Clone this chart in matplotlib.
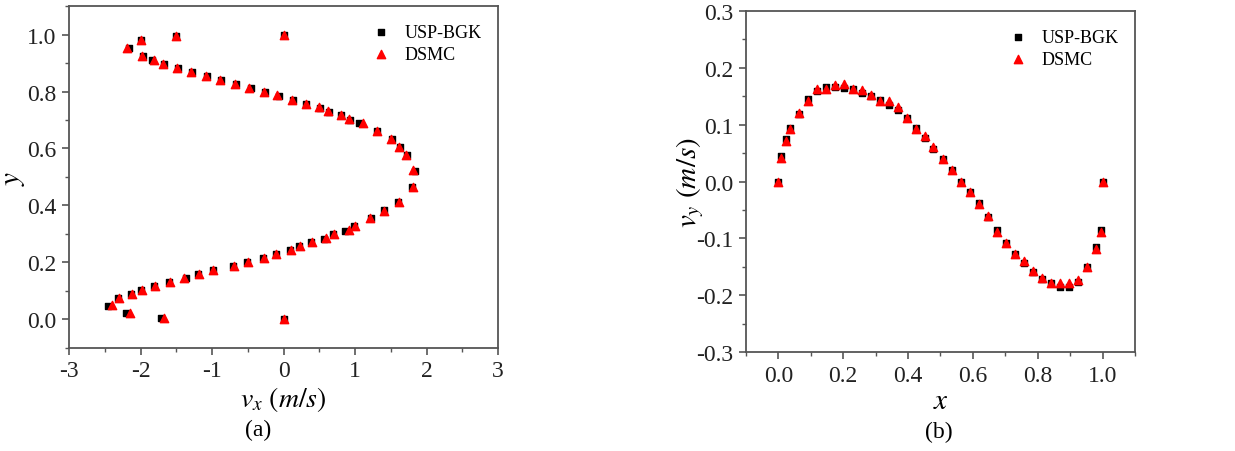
import matplotlib
matplotlib.use("Agg")
import matplotlib.pyplot as plt
from matplotlib.ticker import MultipleLocator

# ---------------- data (a): vx profile along y ----------------
a_dsmc_vx = [0.0, -1.50, -2.00, -2.19, -1.98, -1.81, -1.68, -1.49, -1.29, -1.08, -0.89, -0.68,
             -0.48, -0.27, -0.09, 0.12, 0.31, 0.50, 0.62, 0.80, 0.92, 1.11, 1.30, 1.50, 1.62,
             1.71, 1.81, 1.81, 1.61, 1.41, 1.21, 1.00, 0.91, 0.70, 0.60, 0.40, 0.23, 0.10,
             -0.10, -0.28, -0.50, -0.70, -0.99, -1.18, -1.39, -1.59, -1.80, -1.98, -2.12,
             -2.30, -2.40, -2.15, -1.67, 0.0]
a_dsmc_y = [1.000, 0.995, 0.981, 0.953, 0.925, 0.912, 0.898, 0.884, 0.870, 0.855, 0.841, 0.827,
            0.814, 0.800, 0.786, 0.771, 0.757, 0.744, 0.730, 0.718, 0.702, 0.689, 0.662, 0.634,
            0.606, 0.578, 0.523, 0.465, 0.412, 0.382, 0.356, 0.327, 0.315, 0.299, 0.285, 0.272,
            0.258, 0.244, 0.229, 0.216, 0.201, 0.187, 0.173, 0.159, 0.146, 0.132, 0.118, 0.103,
            0.090, 0.076, 0.051, 0.022, 0.006, 0.000]
a_usp_vx = [0.0, -1.50, -2.00, -2.16, -1.96, -1.84, -1.67, -1.48, -1.28, -1.07, -0.88, -0.67,
            -0.46, -0.26, -0.06, 0.13, 0.32, 0.51, 0.63, 0.81, 0.93, 1.05, 1.31, 1.51, 1.63,
            1.72, 1.84, 1.80, 1.60, 1.40, 1.22, 0.99, 0.86, 0.69, 0.56, 0.39, 0.22, 0.09,
            -0.11, -0.29, -0.51, -0.71, -0.98, -1.19, -1.36, -1.60, -1.81, -1.99, -2.13,
            -2.31, -2.46, -2.20, -1.71, 0.0]
a_usp_y = [1.000, 0.995, 0.981, 0.952, 0.924, 0.911, 0.897, 0.883, 0.869, 0.854, 0.840, 0.826,
           0.813, 0.799, 0.785, 0.770, 0.756, 0.743, 0.729, 0.716, 0.701, 0.688, 0.661, 0.633,
           0.605, 0.577, 0.521, 0.466, 0.411, 0.383, 0.355, 0.328, 0.311, 0.300, 0.284, 0.273,
           0.258, 0.245, 0.230, 0.217, 0.202, 0.188, 0.172, 0.160, 0.145, 0.133, 0.119, 0.104,
           0.091, 0.077, 0.048, 0.022, 0.006, 0.000]
a_xticks = [-3, -2, -1, 0, 1, 2, 3]
a_xticklabels = ["-3", "-2", "-1", "0", "1", "2", "3"]
a_yticks = [0.0, 0.2, 0.4, 0.6, 0.8, 1.0]
a_yticklabels = ["0.0", "0.2", "0.4", "0.6", "0.8", "1.0"]

# ---------------- data (b): vy profile along x ----------------
b_x = [0.000, 0.008, 0.023, 0.036, 0.064, 0.091, 0.118, 0.146, 0.175, 0.203, 0.230, 0.257,
       0.285, 0.314, 0.342, 0.369, 0.397, 0.424, 0.451, 0.478, 0.507, 0.535, 0.563, 0.591,
       0.618, 0.646, 0.674, 0.702, 0.730, 0.758, 0.786, 0.814, 0.842, 0.869, 0.898, 0.925,
       0.953, 0.981, 0.995, 1.000]
b_dsmc_vy = [0.000, 0.041, 0.072, 0.093, 0.121, 0.142, 0.162, 0.163, 0.170, 0.171, 0.162, 0.161,
             0.152, 0.142, 0.141, 0.131, 0.112, 0.092, 0.080, 0.060, 0.040, 0.021, 0.000, -0.019,
             -0.039, -0.060, -0.089, -0.109, -0.128, -0.139, -0.158, -0.169, -0.178, -0.179,
             -0.179, -0.174, -0.150, -0.118, -0.089, 0.000]
b_usp_vy = [0.000, 0.045, 0.075, 0.095, 0.119, 0.145, 0.159, 0.166, 0.167, 0.165, 0.163, 0.156,
            0.151, 0.143, 0.135, 0.125, 0.111, 0.094, 0.076, 0.058, 0.039, 0.020, 0.000, -0.018,
            -0.038, -0.062, -0.086, -0.108, -0.128, -0.144, -0.159, -0.171, -0.179, -0.185,
            -0.185, -0.176, -0.150, -0.116, -0.085, 0.000]
b_xticks = [0.0, 0.2, 0.4, 0.6, 0.8, 1.0]
b_xticklabels = ["0.0", "0.2", "0.4", "0.6", "0.8", "1.0"]
b_yticks = [-0.3, -0.2, -0.1, 0.0, 0.1, 0.2, 0.3]
b_yticklabels = ["-0.3", "-0.2", "-0.1", "0.0", "0.1", "0.2", "0.3"]

label_usp = "USP-BGK"
label_dsmc = "DSMC"

plt.rcParams["font.family"] = ["Liberation Serif", "DejaVu Serif"]
plt.rcParams["mathtext.fontset"] = "stix"

TICK_FS = 17

fig = plt.figure(figsize=(12.35, 4.52), dpi=100)
ax1 = fig.add_axes([0.0559, 0.2279, 0.3474, 0.7566])
ax2 = fig.add_axes([0.6040, 0.2190, 0.3150, 0.7544])

spine_col = "#555555"

def style(ax):
    for s in ax.spines.values():
        s.set_color(spine_col)
        s.set_linewidth(1.3)
    ax.tick_params(which="both", direction="out", colors=spine_col, labelcolor="#222222",
                   top=False, right=False)
    ax.tick_params(which="major", length=5, width=1.2, pad=4)
    ax.tick_params(which="minor", length=3, width=1.0)

leg_kw = dict(loc="upper right", frameon=False, fontsize=13, handletextpad=0.3,
              borderaxespad=0.4, labelspacing=0.28, bbox_to_anchor=(0.995, 0.99))

# panel (a)
ax1.scatter(a_usp_vx, a_usp_y, marker="s", s=22, color="black", label=label_usp, zorder=2)
ax1.scatter(a_dsmc_vx, a_dsmc_y, marker="^", s=36, color="red", label=label_dsmc, zorder=3)
ax1.set_xlim(-3, 3)
ax1.set_ylim(-0.1, 1.1)
ax1.set_xticks(a_xticks)
ax1.set_xticklabels(a_xticklabels, fontsize=TICK_FS)
ax1.set_yticks(a_yticks)
ax1.set_yticklabels(a_yticklabels, fontsize=TICK_FS)
ax1.xaxis.set_minor_locator(MultipleLocator(0.5))
ax1.yaxis.set_minor_locator(MultipleLocator(0.1))
style(ax1)
ax1.set_xlabel(r"$v_x\ (m/s)$", fontsize=20, labelpad=2)
ax1.set_ylabel(r"$y$", fontsize=21, va="center")
ax1.yaxis.set_label_coords(-0.128, 0.5)
ax1.legend(**leg_kw)

# panel (b)
ax2.scatter(b_x, b_usp_vy, marker="s", s=22, color="black", label=label_usp, zorder=2)
ax2.scatter(b_x, b_dsmc_vy, marker="^", s=36, color="red", label=label_dsmc, zorder=3)
ax2.set_xlim(-0.1, 1.1)
ax2.set_ylim(-0.3, 0.3)
ax2.set_xticks(b_xticks)
ax2.set_xticklabels(b_xticklabels, fontsize=TICK_FS)
ax2.set_yticks(b_yticks)
ax2.set_yticklabels(b_yticklabels, fontsize=TICK_FS)
ax2.xaxis.set_minor_locator(MultipleLocator(0.1))
ax2.yaxis.set_minor_locator(MultipleLocator(0.05))
style(ax2)
ax2.set_xlabel(r"$x$", fontsize=21, labelpad=2)
ax2.set_ylabel(r"$v_y\ (m/s)$", fontsize=21, va="center")
ax2.yaxis.set_label_coords(-0.144, 0.5)
ax2.legend(**leg_kw)

fig.text(258 / 1235, 1 - 430 / 452, "(a)", ha="center", va="center", fontsize=17)
fig.text(939 / 1235, 1 - 432 / 452, "(b)", ha="center", va="center", fontsize=17)

fig.savefig("out.png", dpi=100)
